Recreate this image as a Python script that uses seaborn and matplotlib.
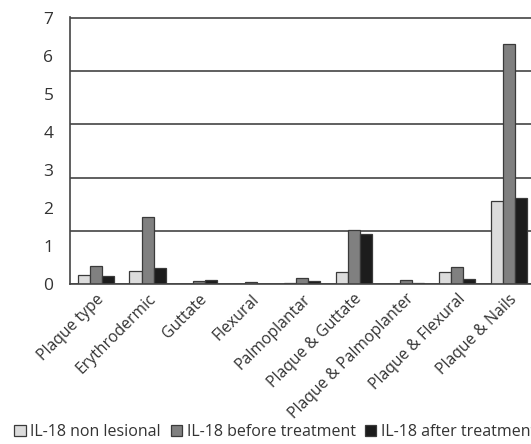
import numpy as np
import pandas as pd
import matplotlib
matplotlib.use('Agg')
import matplotlib.pyplot as plt
import seaborn as sns

# Données
categories = ['Plaque type', 'Erythrodermic', 'Guttate', 'Flexural', 'Palmoplantar',
              'Plaque & Guttate', 'Plaque & Palmoplanter', 'Plaque & Flexural', 'Plaque & Nails']
series_names = ['IL-18 non lesional', 'IL-18 before treatment', 'IL-18 after treatment']
non_lesional = [0.24, 0.35, 0.0, 0.0, 0.04, 0.33, 0.0, 0.33, 2.19]
before_treatment = [0.48, 1.76, 0.09, 0.06, 0.15, 1.42, 0.10, 0.44, 6.30]
after_treatment = [0.22, 0.43, 0.12, 0.0, 0.07, 1.31, 0.04, 0.13, 2.25]
y_labels = [0, 1, 2, 3, 4, 5, 6, 7]
grid_levels = [0, 1.4, 2.8, 4.2, 5.6, 7]

df = pd.DataFrame({
    'Type': categories * 3,
    'Série': [series_names[0]] * 9 + [series_names[1]] * 9 + [series_names[2]] * 9,
    'Valeur': non_lesional + before_treatment + after_treatment,
})

sns.set_style('white')
plt.rcParams['font.family'] = ['Open Sans', 'DejaVu Sans']

fig = plt.figure(figsize=(5.31, 4.44), dpi=100)
ax = fig.add_axes([0.132, 0.36, 0.875, 0.602])

palette = ['#dcdcdc', '#808080', '#1c1c1c']
sns.barplot(data=df, x='Type', y='Valeur', hue='Série', palette=palette,
            width=0.7, edgecolor='#3a3a3a', linewidth=0.9, ax=ax, legend=False)

ax.set_xlim(-0.5, 8.5)
ax.set_ylim(0, 7.02)
ax.set_xlabel('')
ax.set_ylabel('')

# Axe y : étiquettes aux entiers, lignes de grille tous les 1,4
ax.yaxis.remove_overlapping_locs = False
ax.set_yticks(y_labels)
ax.set_yticklabels([str(v) for v in y_labels], fontsize=12.5, color='#333333')
ax.set_yticks(grid_levels, minor=True)
ax.tick_params(axis='y', which='major', length=0, pad=12)
ax.tick_params(axis='y', which='minor', length=6, color='#444444', width=1.2)
ax.grid(False)
ax.yaxis.grid(True, which='minor', color='#444444', linewidth=1.2)
ax.set_axisbelow(True)

# Axe x : traits entre les catégories
ax.set_xticks(np.arange(len(categories)))
ax.set_xticklabels(categories, rotation=45, ha='right', rotation_mode='anchor',
                   fontsize=11.3, color='#333333')
ax.set_xticks(np.arange(len(categories) + 1) - 0.5, minor=True)
ax.tick_params(axis='x', which='major', length=0, pad=5)
ax.tick_params(axis='x', which='minor', length=6, color='#444444', width=1.2)

for side in ['top', 'right']:
    ax.spines[side].set_visible(False)
for side in ['left', 'bottom']:
    ax.spines[side].set_color('#444444')
    ax.spines[side].set_linewidth(1.2)

handles = [plt.Rectangle((0, 0), 1, 1, facecolor=c, edgecolor='#3a3a3a', linewidth=0.9)
           for c in palette]
fig.legend(handles, series_names, loc='lower left', bbox_to_anchor=(0.0, -0.024),
           ncol=3, frameon=False, fontsize=11.5, handlelength=0.7, handleheight=0.7,
           handletextpad=0.3, columnspacing=0.6, labelcolor='#333333')

fig.savefig('out.png', dpi=100)
